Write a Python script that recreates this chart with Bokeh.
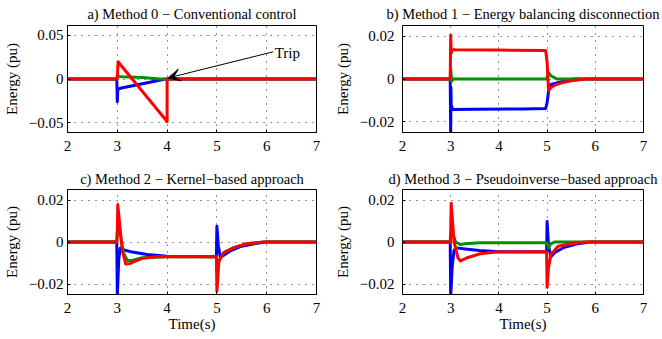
from bokeh.plotting import figure
from bokeh.layouts import column, row
from bokeh.models import FixedTicker, Arrow, VeeHead, Label, Range1d
from bokeh.embed import file_html
from bokeh.resources import INLINE

FONT = "Liberation Serif"
BLUE = "#0000ff"
GREEN = "#009000"
RED = "#ff0000"

x_ticks = [2, 3, 4, 5, 6, 7]

# ---- Panel a: Method 0 - Conventional control
ta_blue = [2.0, 2.99, 3.0, 3.01, 3.06, 3.97, 7.0]
ea_blue = [0, 0, -0.026, -0.012, -0.0106, 0.0, 0.0]
ta_green = [2.0, 2.99, 3.0, 3.03, 3.1, 3.5, 3.85, 7.0]
ea_green = [0, 0, 0.004, 0.003, 0.0025, 0.0018, 0.0, 0.0]
ta_red = [2.0, 2.99, 3.0, 3.015, 4.0, 4.0, 7.0]
ea_red = [0, 0, 0.0, 0.0197, -0.0485, 0.0, 0.0]
a_yticks = [-0.05, 0, 0.05]
a_ylabels = ["\u22120.05", "0", "0.05"]

# ---- Panel b: Method 1 - Energy balancing disconnection
tb_blue = [2.0, 2.99, 3.0, 3.005, 3.01, 3.04, 3.5, 4.5, 4.97, 5.0, 5.04, 5.08, 5.2, 5.35, 5.55, 7.0]
eb_blue = [0, 0, -0.026, -0.004, -0.012, -0.0142, -0.0141, -0.014, -0.0138, -0.011, -0.004, -0.0025, -0.0018, -0.001, 0, 0]
tb_green = [2.0, 2.99, 3.0, 3.02, 3.05, 4.99, 5.03, 5.08, 5.2, 7.0]
eb_green = [0, 0, 0.005, -0.001, 0, 0, 0.003, 0.0015, 0, 0]
tb_red = [2.0, 2.99, 3.0, 3.01, 3.03, 3.1, 4.0, 4.97, 5.0, 5.03, 5.08, 5.15, 5.3, 5.5, 5.8, 7.0]
eb_red = [0, 0, 0.0205, 0.012, 0.0138, 0.0137, 0.0135, 0.0133, 0.008, -0.0055, -0.004, -0.003, -0.0018, -0.0008, 0, 0]

# ---- Panel c: Method 2 - Kernel-based approach
tc_blue = [2.0, 2.99, 3.0, 3.03, 3.06, 3.1, 3.3, 3.6, 4.0, 4.99, 5.0, 5.03, 5.07, 5.27, 5.47, 5.8, 6.0, 7.0]
ec_blue = [0, 0, -0.026, -0.008, -0.003, -0.0036, -0.0048, -0.006, -0.0068, -0.007, 0.0075, -0.002, -0.0074, -0.0042, -0.0022, -0.0006, 0, 0]
tc_green = [2.0, 2.99, 3.0, 3.02, 3.06, 3.12, 3.2, 3.3, 3.5, 4.0, 4.99, 5.01, 5.04, 5.14, 5.34, 5.6, 5.95, 7.0]
ec_green = [0, 0, 0.004, 0.01, 0.004, -0.005, -0.0088, -0.0088, -0.0075, -0.007, -0.007, -0.015, -0.009, -0.005, -0.0027, -0.0008, 0, 0]
tc_red = [2.0, 2.99, 3.0, 3.01, 3.05, 3.1, 3.17, 3.25, 3.35, 3.5, 3.8, 4.99, 5.0, 5.04, 5.14, 5.34, 5.6, 5.95, 7.0]
ec_red = [0, 0, 0.005, 0.0177, 0.008, -0.004, -0.0105, -0.0103, -0.0092, -0.0078, -0.007, -0.007, -0.0235, -0.009, -0.005, -0.0027, -0.0008, 0, 0]

# ---- Panel d: Method 3 - Pseudoinverse-based approach
td_blue = [2.0, 2.99, 3.0, 3.03, 3.07, 3.12, 3.3, 3.6, 4.0, 4.99, 5.0, 5.03, 5.08, 5.16, 5.36, 5.63, 5.9, 7.0]
ed_blue = [0, 0, -0.026, -0.012, -0.004, -0.0028, -0.0033, -0.004, -0.0047, -0.0047, 0.0098, -0.002, -0.007, -0.005, -0.0025, -0.0008, 0, 0]
td_green = [2.0, 2.99, 3.0, 3.03, 3.1, 3.2, 3.3, 3.6, 5.0, 5.03, 5.07, 5.15, 7.0]
ed_green = [0, 0, 0.002, 0.005, 0.0, -0.0012, -0.0008, -0.0003, -0.0003, -0.0028, -0.001, 0, 0]
td_red = [2.0, 2.99, 3.0, 3.01, 3.07, 3.15, 3.2, 3.34, 3.61, 3.95, 4.99, 5.0, 5.03, 5.08, 5.23, 5.49, 5.8, 7.0]
ed_red = [0, 0, 0.005, 0.0184, 0.0, -0.0075, -0.009, -0.0075, -0.0056, -0.0048, -0.0047, -0.0216, -0.012, -0.006, -0.002, -0.0008, 0, 0]

small_yticks = [-0.02, 0, 0.02]
small_ylabels = ["\u22120.02", "0", "0.02"]


def make_fig(title, lim, yticks, ylabels, h, left, right, top, bottom, xlabel, lbl_standoff, title_standoff):
    p = figure(width=331, height=h, x_range=Range1d(2, 7), y_range=Range1d(-lim, lim),
               output_backend="svg", toolbar_location=None,
               min_border_left=left, min_border_right=right,
               min_border_top=top, min_border_bottom=bottom)
    p.title.text = title
    p.title.align = "center"
    p.title.text_font = FONT
    p.title.text_font_size = "14.5px"
    p.title.text_font_style = "normal"
    p.title.text_color = "black"
    p.title.standoff = title_standoff
    p.outline_line_color = "black"
    p.outline_line_alpha = 1
    p.xaxis.ticker = FixedTicker(ticks=x_ticks)
    p.yaxis.ticker = FixedTicker(ticks=yticks)
    p.yaxis.major_label_overrides = {t: l for t, l in zip(yticks, ylabels)}
    for ax in (p.xaxis, p.yaxis):
        ax.axis_line_color = "black"
        ax.major_tick_in = 3
        ax.major_tick_out = 0
        ax.minor_tick_line_color = None
        ax.major_label_text_font = FONT
        ax.major_label_text_font_size = "15px"
        ax.major_label_text_color = "black"
        ax.axis_label_text_font = FONT
        ax.axis_label_text_font_size = "15px"
        ax.axis_label_text_font_style = "normal"
        ax.axis_label_text_color = "black"
    p.yaxis.major_label_standoff = lbl_standoff
    p.xaxis.major_label_standoff = 8
    p.yaxis.axis_label = "Energy (pu)"
    p.yaxis.axis_label_standoff = 6
    if xlabel:
        p.xaxis.axis_label = xlabel
        p.xaxis.axis_label_standoff = 0
    for g in (p.xgrid, p.ygrid):
        g.grid_line_color = "black"
        g.grid_line_alpha = 0.85
        g.grid_line_dash = "1 6"
        g.grid_line_width = 1
    p.background_fill_color = "white"
    p.border_fill_color = "white"
    return p


def draw(p, series):
    for t, e, c in series:
        p.line(t, e, line_color=c, line_width=3, line_join="round")


pa = make_fig("a) Method 0 \u2212 Conventional control", 0.061, a_yticks, a_ylabels,
              165, 67, 15, 25, 33, None, 4, 7)
draw(pa, [(ta_blue, ea_blue, BLUE), (ta_green, ea_green, GREEN), (ta_red, ea_red, RED)])
pa.add_layout(Arrow(end=VeeHead(size=12, fill_color="black", line_color="black", line_width=1),
                    x_start=6.13, y_start=0.031, x_end=4.02, y_end=0.0012,
                    line_color="black", line_width=1))
pa.add_layout(Label(x=6.16, y=0.0292, text="Trip", text_baseline="middle",
                    text_font=FONT, text_font_size="15px", text_color="black"))

pb = make_fig("b) Method 1 \u2212 Energy balancing disconnection", 0.025, small_yticks, small_ylabels,
              165, 64, 19, 25, 33, None, 8, 7)
draw(pb, [(tb_blue, eb_blue, BLUE), (tb_green, eb_green, GREEN), (tb_red, eb_red, RED)])

pc = make_fig("c) Method 2 \u2212 Kernel\u2212based approach", 0.025, small_yticks, small_ylabels,
              174, 67, 15, 23, 45, "Time(s)", 4, 6)
draw(pc, [(tc_blue, ec_blue, BLUE), (tc_green, ec_green, GREEN), (tc_red, ec_red, RED)])

pd_ = make_fig("d) Method 3 \u2212 Pseudoinverse\u2212based approach", 0.025, small_yticks, small_ylabels,
               174, 64, 19, 23, 45, "Time(s)", 8, 6)
draw(pd_, [(td_blue, ed_blue, BLUE), (td_green, ed_green, GREEN), (td_red, ed_red, RED)])

layout = column(row(pa, pb), row(pc, pd_))

open("out.html", "w").write(file_html(layout, INLINE))
